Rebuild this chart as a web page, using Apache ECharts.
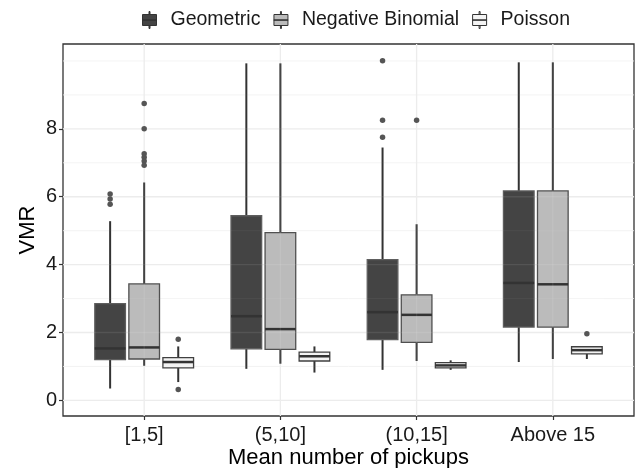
<!DOCTYPE html>
<html><head><meta charset="utf-8">
<script src="https://cdn.jsdelivr.net/npm/echarts@6/dist/echarts.min.js"></script>
<style>html,body{margin:0;padding:0;background:#fff}#c{width:639px;height:468px}</style>
</head><body><div id="c"></div>
<script>
const categories = ['[1,5]', '(5,10]', '(10,15]', 'Above 15'];
const seriesNames = ['Geometric', 'Negative Binomial', 'Poisson'];
// each row: [lower whisker, Q1, median, Q3, upper whisker]
const geometricStats = [
  [0.35, 1.20, 1.53, 2.85, 5.28],
  [0.93, 1.52, 2.48, 5.44, 9.93],
  [0.90, 1.79, 2.60, 4.15, 7.45],
  [1.13, 2.16, 3.46, 6.17, 9.96]
];
const negBinomialStats = [
  [1.02, 1.22, 1.56, 3.43, 6.42],
  [1.08, 1.50, 2.10, 4.94, 9.93],
  [1.16, 1.71, 2.52, 3.11, 5.19],
  [1.22, 2.16, 3.42, 6.17, 9.96]
];
const poissonStats = [
  [0.54, 0.96, 1.13, 1.26, 1.59],
  [0.82, 1.16, 1.30, 1.42, 1.59],
  [0.90, 0.96, 1.03, 1.11, 1.18],
  [1.22, 1.37, 1.48, 1.58, 1.60]
];
// outliers: [category index, value]
const geometricOutliers = [[0, 6.08], [0, 5.93], [0, 5.78], [2, 10.01], [2, 8.25], [2, 7.75]];
const negBinomialOutliers = [[0, 8.75], [0, 8.00], [0, 7.27], [0, 7.16], [0, 7.05], [0, 6.93], [2, 8.25]];
const poissonOutliers = [[0, 1.80], [0, 0.32], [3, 1.96]];
const yTicks = [0, 2, 4, 6, 8];
const yMinorGrid = [1, 3, 5, 7, 9, 10];

const allStats = [geometricStats, negBinomialStats, poissonStats];
const allOutliers = [geometricOutliers, negBinomialOutliers, poissonOutliers];
const fills = ['#444444', '#bbbbbb', '#f3f3f3'];
const borders = ['#5e5e5e', '#505050', '#404040'];
const dodge = [-0.25, 0, 0.25];
const halfWidth = 0.1125;
const catIdx = categories.map((_, i) => i);

function boxRender(si) {
  return function (params, api) {
    const c = api.value(0) + dodge[si];
    const lo = api.coord([c, api.value(1)]);
    const q1 = api.coord([c, api.value(2)]);
    const med = api.coord([c, api.value(3)]);
    const q3 = api.coord([c, api.value(4)]);
    const hi = api.coord([c, api.value(5)]);
    const hw = api.size([halfWidth, 0])[0];
    const x = lo[0];
    return {
      type: 'group', children: [
        { type: 'line', shape: { x1: x, y1: hi[1], x2: x, y2: q3[1] }, style: { stroke: '#333', lineWidth: 2 } },
        { type: 'line', shape: { x1: x, y1: q1[1], x2: x, y2: lo[1] }, style: { stroke: '#333', lineWidth: 2 } },
        { type: 'rect', shape: { x: x - hw, y: q3[1], width: 2 * hw, height: q1[1] - q3[1] }, style: { fill: fills[si], stroke: borders[si], lineWidth: 1.3 } },
        { type: 'line', shape: { x1: x - hw, y1: med[1], x2: x + hw, y2: med[1] }, style: { stroke: '#333', lineWidth: 2.5 } }
      ]
    };
  };
}

function hLineRender(color, width) {
  return function (params, api) {
    const cs = params.coordSys;
    const p = api.coord([0, api.value(0)]);
    return { type: 'line', shape: { x1: cs.x, y1: p[1], x2: cs.x + cs.width, y2: p[1] }, style: { stroke: color, lineWidth: width } };
  };
}
function vLineRender(color, width) {
  return function (params, api) {
    const cs = params.coordSys;
    const p = api.coord([api.value(0), 0]);
    return { type: 'line', shape: { x1: p[0], y1: cs.y, x2: p[0], y2: cs.y + cs.height }, style: { stroke: color, lineWidth: width } };
  };
}

const gridSeries = [];
function addGrid(z, colMajor, colMinor) {
  gridSeries.push(
    { type: 'custom', silent: true, z: z, data: yTicks.map(v => [v]), encode: { y: 0 }, renderItem: hLineRender(colMajor, 1.3) },
    { type: 'custom', silent: true, z: z, data: yMinorGrid.map(v => [v]), encode: { y: 0 }, renderItem: hLineRender(colMinor, 0.8) },
    { type: 'custom', silent: true, z: z, data: catIdx.map(v => [v]), encode: { x: 0 }, renderItem: vLineRender(colMajor, 1.3) }
  );
}
addGrid(1, '#ebebeb', '#f0f0f0');
addGrid(3, 'rgba(255,255,255,0.09)', 'rgba(255,255,255,0.06)');

const boxSeries = seriesNames.map((name, si) => ({
  name: name, type: 'custom', z: 2,
  itemStyle: { color: fills[si], borderColor: '#333' },
  data: allStats[si].map((s, i) => [i].concat(s)),
  encode: { x: 0, y: [1, 2, 3, 4, 5] },
  renderItem: boxRender(si)
}));
const outlierSeries = seriesNames.map((name, si) => ({
  name: name + ' outliers', type: 'scatter', z: 4, symbolSize: 5.5, silent: true,
  itemStyle: { color: '#555555', opacity: 1 },
  data: allOutliers[si].map(o => [o[0] + dodge[si], o[1]])
}));

const legendIcon = 'path://M6.5,0h1v3h-1z M0,3h14v11h-14z M0,8.3h14v0.5h-14z M6.5,14h1v3h-1z';
const font = 'Liberation Sans';

const chart = echarts.init(document.getElementById('c'), null, { renderer: 'canvas' });
chart.setOption({
  animation: false,
  backgroundColor: '#ffffff',
  legend: {
    top: 5, left: 137, itemWidth: 14, itemHeight: 17, itemGap: 13,
    textStyle: { fontSize: 19.5, color: '#1a1a1a', fontFamily: font, padding: [0, 0, 0, 9] },
    data: seriesNames.map((n, i) => ({ name: n, icon: legendIcon, itemStyle: { color: fills[i], borderColor: '#333', borderWidth: 1 } }))
  },
  grid: { left: 63, right: 5, top: 44, bottom: 52, outerBoundsMode: 'none', containLabel: false, show: true, borderColor: '#333', borderWidth: 1.3, backgroundColor: '#fff' },
  xAxis: {
    type: 'value', min: -0.596, max: 3.596, position: 'bottom',
    axisLine: { show: false, onZero: false }, splitLine: { show: false },
    axisTick: { show: true, customValues: catIdx, length: 4, lineStyle: { color: '#333', width: 1.2 } },
    axisLabel: { customValues: catIdx, formatter: v => categories[Math.round(v)], fontSize: 20, color: '#1a1a1a', margin: 9, fontFamily: font },
    name: 'Mean number of pickups', nameLocation: 'middle', nameGap: 31, nameMoveOverlap: false,
    nameTextStyle: { fontSize: 22, color: '#000', fontFamily: font }
  },
  yAxis: {
    type: 'value', min: -0.46, max: 10.5, position: 'left',
    axisLine: { show: false, onZero: false }, splitLine: { show: false },
    axisTick: { show: true, customValues: yTicks, length: 4, lineStyle: { color: '#333', width: 1.2 } },
    axisLabel: { customValues: yTicks, fontSize: 20, color: '#1a1a1a', margin: 6, fontFamily: font },
    name: 'VMR', nameLocation: 'middle', nameGap: 24, nameRotate: 90, nameMoveOverlap: false,
    nameTextStyle: { fontSize: 22, color: '#000', fontFamily: font }
  },
  series: gridSeries.concat(boxSeries, outlierSeries)
});
</script>
</body></html>
